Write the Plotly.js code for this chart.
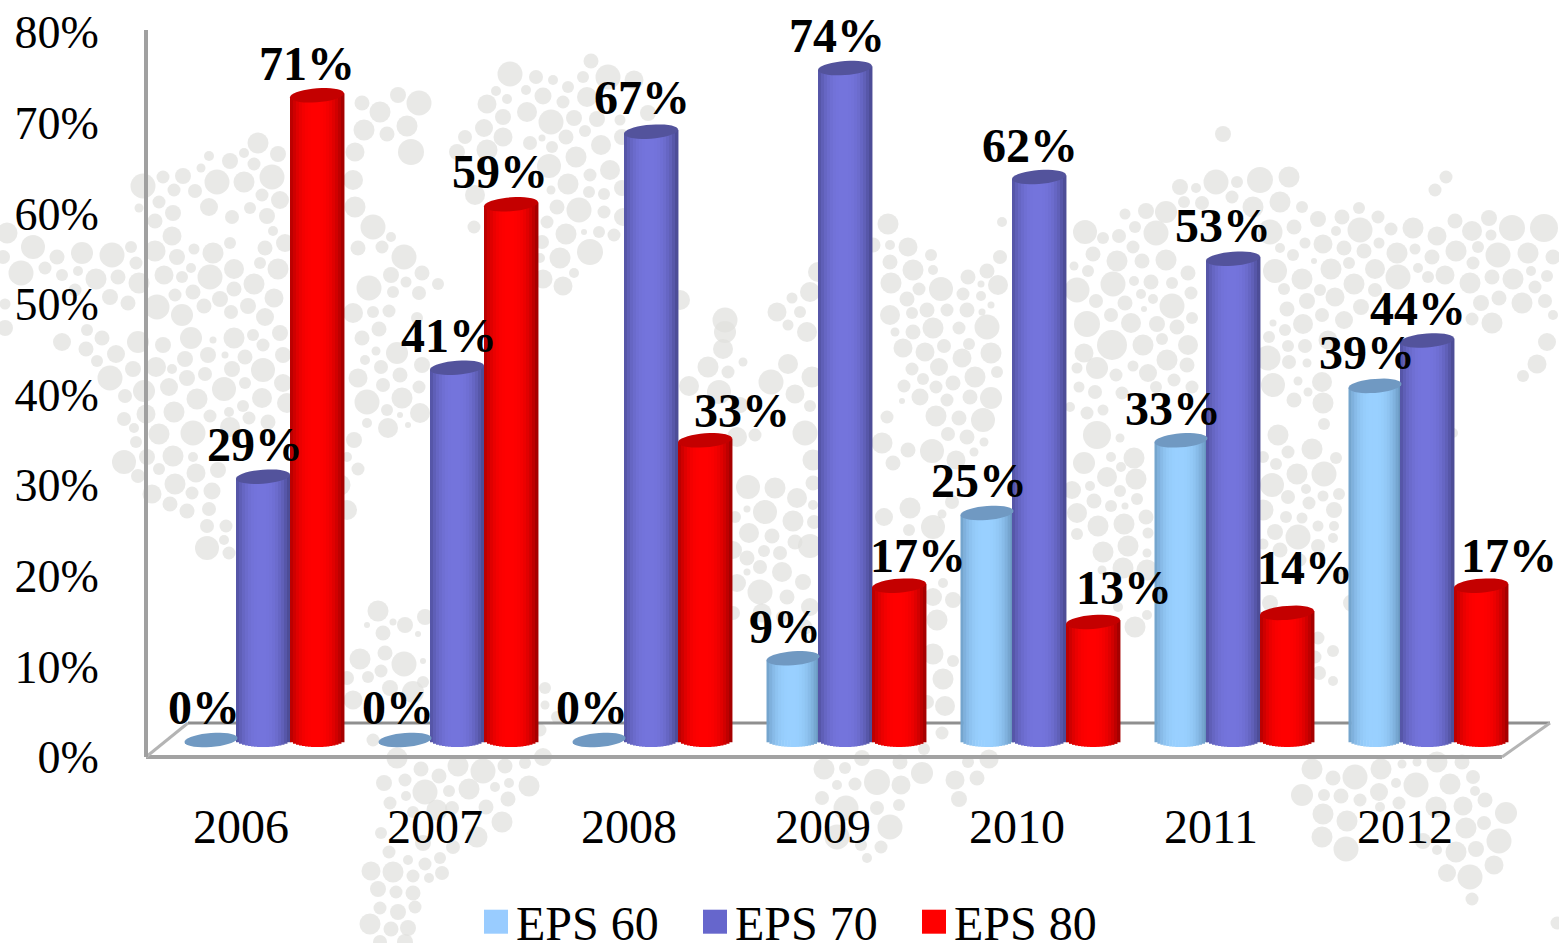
<!DOCTYPE html>
<html><head><meta charset="utf-8">
<script src="https://cdn.plot.ly/plotly-3.0.1.min.js"></script>
<style>html,body{margin:0;padding:0;background:#fff;overflow:hidden}#c{width:1559px;height:943px}</style>
</head><body><div id="c"></div>
<script>
const years=['2006','2007','2008','2009','2010','2011','2012'];
const eps60=[0,0,0,9,25,33,39];
const eps70=[29,41,67,74,62,53,44];
const eps80=[71,59,33,17,13,14,17];
const seriesNames=['EPS 60','EPS 70','EPS 80'];
const yTicks=[0,10,20,30,40,50,60,70,80];
const yTickLabels=['0%','10%','20%','30%','40%','50%','60%','70%','80%'];

// styling
const swatch=['#99ccff','#6666cc','#ff0000'];
const light=[[153,208,255],[116,116,220],[255,0,0]];
const dark=[[104,150,190],[76,76,150],[165,0,0]];
const capColor=['#7099c2','#53539c','#c40000'];
// label nudges in pixels, from each bar's top centre
const dx60=[-7,-7,-7,-8,-8,-8,-8], dy60=[33,33,33,32,33,32,33];
const dx70=[-8,-8,-9,-8,-9,-10,-9], dy70=[32,32,34,33,32,33,32];
const dx80=[-10,-11,37,19,31,18,28], dy80=[32,33,30,30,34,45,30];

// decorative world-map dots behind the chart: [x, y, diameter] in page pixels
const mapDots=[[143,186,25],[163,177,13],[183,176,16],[174,190,13],[195,191,14],[201,168,9],[209,156,10],[217,182,25],[230,161,16],[244,153,10],[258,143,21],[254,164,13],[244,182,21],[272,177,25],[278,154,16],[262,195,13],[280,200,18],[250,208,12],[267,216,16],[232,217,14],[209,207,18],[159,202,13],[173,213,16],[155,221,15],[139,208,9],[172,236,19],[273,231,10],[230,243,12],[213,253,21],[194,249,11],[177,257,16],[155,251,21],[131,247,12],[112,255,25],[82,253,22],[57,257,15],[33,247,24],[7,233,21],[3,257,14],[21,273,25],[45,268,13],[62,275,12],[78,271,10],[96,279,21],[118,277,15],[136,263,13],[139,283,21],[164,275,19],[182,277,12],[191,268,10],[210,277,25],[234,269,20],[260,263,12],[265,248,15],[285,243,18],[278,269,21],[254,284,21],[234,289,15],[220,299,16],[204,306,15],[193,292,15],[175,295,13],[157,307,25],[182,315,22],[274,298,19],[248,306,16],[231,312,14],[265,317,18],[110,297,16],[128,303,15],[5,304,11],[75,290,13],[362,103,15],[380,112,21],[398,95,16],[419,103,25],[364,130,21],[387,134,15],[407,126,21],[411,152,26],[355,152,19],[353,180,20],[355,207,21],[373,227,25],[391,237,10],[382,247,13],[358,248,15],[404,257,25],[391,275,16],[422,273,15],[438,284,12],[406,282,11],[393,292,12],[419,293,14],[369,288,25],[353,313,20],[373,312,12],[389,311,13],[417,318,12],[510,74,25],[496,91,10],[487,104,19],[507,99,10],[503,117,16],[484,128,18],[465,137,14],[503,137,19],[457,152,16],[487,150,21],[475,195,20],[474,227,13],
[138,342,22],[62,342,18],[86,349,15],[102,338,15],[87,330,12],[116,354,18],[97,361,12],[110,378,25],[133,369,16],[144,391,22],[125,396,14],[124,419,14],[146,414,19],[134,428,10],[136,442,12],[124,462,24],[147,457,16],[138,476,14],[152,494,19],[159,434,21],[173,456,21],[159,469,12],[175,484,21],[193,457,10],[196,473,19],[192,493,13],[170,504,15],[187,511,15],[209,509,14],[207,526,14],[226,526,13],[207,548,24],[224,540,10],[229,553,13],[212,491,17],[218,470,16],[193,433,25],[174,412,21],[197,399,21],[169,387,18],[187,378,16],[156,367,20],[172,369,10],[185,359,16],[163,345,16],[191,338,22],[208,355,16],[205,374,14],[224,389,24],[232,369,16],[245,357,15],[263,370,24],[245,383,12],[262,398,20],[243,406,12],[229,412,10],[210,416,13],[249,418,13],[268,422,15],[230,427,20],[234,338,21],[253,335,12],[263,345,13],[213,340,7],[225,355,7],[280,333,16],[283,355,16],[283,383,18],[287,403,20],[5,328,16],
[362,338,15],[379,329,15],[397,353,22],[376,351,9],[365,360,10],[381,367,14],[358,378,19],[400,375,15],[383,385,14],[419,387,13],[402,398,21],[367,402,25],[387,410,12],[420,413,20],[388,428,20],[367,423,10],[400,415,6],[408,425,6],[422,365,16],[354,440,16],[347,457,10],[358,469,13],[340,485,21],[347,510,20],[378,611,21],[405,625,16],[367,625,6],[393,622,7],[383,633,15],[418,634,6],[425,617,16],
[360,659,21],[385,653,15],[404,664,25],[368,677,12],[381,671,13],[423,661,6],[390,688,16],[413,692,22],[353,700,19],[347,678,14],[423,682,12],[373,740,13],[397,758,21],[421,769,15],[439,776,15],[458,766,21],[483,771,25],[505,766,15],[384,783,16],[405,780,13],[425,792,25],[406,796,10],[449,791,12],[469,789,21],[495,787,10],[509,783,10],[390,803,13],[413,812,12],[437,810,21],[452,808,14],[486,807,15],[508,799,15],[502,822,21],[477,837,21],[381,833,12],[389,852,13],[371,871,19],[393,872,21],[408,860,10],[425,864,13],[440,858,12],[413,876,13],[429,878,10],[442,873,14],[378,889,16],[396,892,13],[413,893,15],[380,908,13],[398,912,16],[415,907,13],[370,924,21],[391,929,15],[408,928,16],[380,942,14],[405,942,16],[423,843,16],[453,847,14],
[591,61,15],[536,77,14],[553,80,10],[526,90,10],[543,96,17],[608,77,25],[634,80,19],[583,77,12],[568,87,12],[587,97,20],[563,102,13],[527,112,20],[551,122,25],[574,118,16],[597,119,16],[585,131,12],[566,137,15],[530,143,14],[542,138,7],[552,147,12],[576,157,21],[601,145,20],[549,166,24],[610,170,20],[590,175,13],[568,184,21],[622,188,16],[589,192,12],[551,190,9],[604,194,12],[579,210,25],[557,207,15],[604,212,13],[623,217,18],[547,222,13],[566,234,21],[599,232,12],[584,232,6],[614,235,13],[590,252,26],[560,258,21],[542,242,14],[540,258,10],[543,279,19],[574,273,10],[563,286,19],[620,120,11],[622,137,16],[648,113,16],[680,300,20],[725,320,25],[777,312,19],[792,298,11],[800,312,12],[810,292,20],[818,272,20],
[888,224,21],[873,245,15],[890,245,10],[908,247,19],[931,255,12],[890,262,15],[913,270,21],[933,270,10],[891,283,21],[919,289,13],[941,289,24],[907,299,15],[890,315,20],[927,310,15],[947,310,13],[967,310,15],[968,277,15],[987,271,15],[963,294,13],[981,284,7],[981,296,10],[1000,257,14],[998,285,20],[1002,222,10],[991,305,7],[982,312,7],[912,313,12],
[725,332,22],[723,349,20],[743,362,9],[708,367,21],[728,372,13],[788,364,20],[788,325,11],[807,332,20],[771,382,25],[812,377,21],[689,386,20],[719,392,24],[795,394,19],[810,406,12],[740,405,16],[805,433,25],[755,435,13],[737,437,20],[813,460,21],[748,487,24],[775,488,21],[797,498,20],[813,483,15],[813,505,10],[765,512,24],[747,509,7],[735,517,12],[793,521,21],[814,522,14],[749,533,20],[772,536,15],[795,542,15],[810,546,24],[733,550,18],[764,551,12],[747,558,15],[780,553,14],[760,567,14],[747,572,7],[782,572,20],[803,582,16],[760,592,25],[787,597,15],[737,583,18],[810,607,18],[762,613,19],[782,617,12],[733,613,14],[805,627,15],
[895,332,9],[913,332,15],[933,328,21],[959,328,13],[987,327,25],[903,348,19],[925,352,19],[944,346,14],[969,344,12],[991,353,21],[962,358,19],[939,367,18],[912,369,13],[923,379,12],[904,386,13],[936,387,13],[953,383,15],[975,377,21],[997,372,12],[920,397,17],[902,401,6],[947,400,13],[970,397,15],[991,398,22],[936,416,21],[887,417,13],[959,418,15],[983,420,24],[948,434,14],[967,437,15],[984,442,9],[882,443,21],[908,450,15],[932,451,24],[974,452,9],[893,463,15],[956,460,19],[910,508,21],[884,517,18],[942,514,9],[909,530,12],[952,502,14],[933,527,24],[943,583,10],[933,597,18],[953,600,16],[937,620,21],
[933,654,21],[953,661,12],[943,679,21],[927,702,14],[945,706,20],[942,733,13],[924,749,12],[824,769,21],[845,768,12],[862,758,16],[877,782,26],[900,762,15],[922,773,22],[901,785,19],[855,784,13],[837,785,10],[822,798,14],[846,808,25],[877,808,14],[899,805,12],[890,827,25],[837,837,25],[861,845,12],[881,847,13],[867,858,10],[955,780,19],[977,778,15],[989,759,19],[968,762,12],[959,799,16],[545,688,12],[545,705,9],[543,757,18],[540,730,13],[525,763,12],[529,786,21],[557,717,12],
[1085,232,24],[1103,238,12],[1119,236,14],[1125,214,11],[1146,211,16],[1166,212,22],[1180,187,16],[1196,188,10],[1216,182,25],[1237,182,12],[1260,180,26],[1289,177,21],[1232,197,13],[1184,202,12],[1202,203,14],[1223,134,16],[1135,227,12],[1156,233,25],[1253,207,21],[1280,202,21],[1302,207,12],[1318,219,16],[1342,217,15],[1359,208,12],[1378,217,13],[1360,230,25],[1391,229,13],[1413,228,21],[1437,236,19],[1455,221,15],[1472,231,20],[1489,218,16],[1512,228,26],[1544,228,28],[1491,235,11],[1435,190,13],[1446,177,13],[1294,227,15],[1270,232,25],[1336,231,10],[1305,243,11],[1323,244,19],[1344,248,15],[1364,251,15],[1379,243,11],[1397,253,21],[1415,249,11],[1432,257,15],[1456,251,21],[1478,247,12],[1498,255,25],[1528,253,21],[1553,257,15],[1280,248,10],[1293,255,12],[1314,261,6],[1331,269,21],[1349,263,12],[1375,269,20],[1398,277,25],[1418,268,10],[1428,277,12],[1445,275,19],[1473,263,13],[1470,283,21],[1492,277,15],[1513,279,21],[1531,271,10],[1547,276,12],[1535,287,13],[1275,271,24],[1302,279,21],[1284,289,12],[1320,290,12],[1354,284,21],[1375,290,14],[1335,297,19],[1307,301,16],[1499,298,15],[1522,303,21],[1545,301,14],[1481,303,16],[1287,309,15],[1322,315,14],[1361,307,16],[1344,320,18],[1303,324,20],[1273,323,7],[1285,330,12],[1472,319,13],[1492,323,21],[1553,315,10],[1547,342,18],[1537,364,19],[1523,376,12],[1269,337,12],[1305,346,14],[1288,346,12],[1328,340,19],[1268,358,25],[1307,363,9],[1289,362,14],[1322,382,20],[1273,385,24],[1298,381,9],[1308,392,9],[1294,400,15],[1323,403,21],
[1077,290,25],[1074,266,9],[1088,271,12],[1093,254,15],[1117,261,21],[1142,261,15],[1166,260,21],[1133,247,13],[1113,284,25],[1134,281,10],[1151,282,15],[1172,283,12],[1188,273,15],[1141,294,10],[1191,293,13],[1096,301,14],[1125,303,15],[1153,299,10],[1172,306,25],[1111,315,14],[1144,309,6],[1087,324,26],[1131,323,20],[1157,324,16],[1192,318,12],[1177,327,15],[1162,339,12],[1112,345,30],[1143,345,21],[1188,345,20],[1084,353,19],[1167,360,21],[1133,366,11],[1097,368,22],[1148,373,18],[1187,365,15],[1077,368,11],[1116,375,13],[1174,380,13],[1079,387,11],[1095,392,14],[1122,393,13],[1156,387,12],[1192,387,13],[1087,413,13],[1103,410,11],[1070,407,10],
[1097,435,28],[1120,438,9],[1084,463,22],[1134,458,21],[1111,457,10],[1121,467,10],[1107,477,20],[1136,479,21],[1090,486,10],[1120,491,12],[1072,490,18],[1094,501,15],[1137,499,12],[1111,506,12],[1125,506,7],[1077,513,20],[1146,517,15],[1098,526,21],[1124,524,21],[1148,533,11],[1077,534,12],[1128,546,21],[1103,552,21],[1147,553,9],[1123,568,21],[1102,570,9],[1147,570,21],[1118,607,10],[1147,615,10],[1135,627,21],[1278,435,21],[1324,424,12],[1312,449,21],[1288,452,13],[1263,457,12],[1336,458,12],[1276,464,12],[1324,474,25],[1297,474,21],[1272,485,24],[1306,489,10],[1288,497,14],[1323,496,11],[1339,494,12],[1263,510,21],[1309,503,13],[1334,510,16],[1286,517,12],[1302,518,11],[1318,526,11],[1334,526,10],[1275,532,16],[1298,537,25],[1333,538,10],[1318,546,14],[1263,544,11],[1280,550,15],[1300,560,13],[1270,603,16],[1318,638,13],[1333,651,12],[1315,657,13],[1319,673,14],[1333,681,10],[1453,433,10],[1340,577,15],[1352,603,18],
[1312,769,21],[1333,778,15],[1355,777,25],[1381,769,21],[1402,764,9],[1417,762,9],[1437,762,21],[1462,762,15],[1473,777,14],[1416,785,25],[1450,784,21],[1396,783,10],[1302,795,22],[1324,795,12],[1341,796,15],[1379,792,18],[1360,800,13],[1475,791,10],[1485,800,15],[1506,813,22],[1399,803,13],[1436,807,21],[1463,806,19],[1380,807,10],[1323,814,21],[1347,821,21],[1484,823,14],[1466,828,21],[1499,841,25],[1322,837,21],[1346,849,25],[1423,841,16],[1437,850,10],[1476,849,16],[1456,852,21],[1494,865,19],[1447,873,18],[1470,877,25],[1472,899,13],[1557,923,13]];

// chart frame, page pixels (fake 3-D floor)
const floorFrontX=[146,1502], floorFrontY=[757,757];
const floorBackX=[188,1550], floorBackY=[723,723];
const floorSideLX=[146,188], floorSideLY=[757,723];
const floorSideRX=[1502,1550], floorSideRY=[757,723];

const W=1559,H=943;
const PXG=194, X0=241, DEPTH=22;      // px per category, first tick px, 3-D shift
const PXV=9.08, Y0=740, FLOORB=757;   // px per %, px of bars' zero, axes bottom
const RY=7, TILT=2, STRIPS=18;
const barPx=[53,54,54], centrePx=[-52,0,54];   // per series, relative to the EPS 70 cylinder

const series=[eps60,eps70,eps80];
const dxs=[dx60,dx70,dx80], dys=[dy60,dy70,dy80];
const data=[];
// background layer
data.push({type:'scatter',mode:'markers',xaxis:'x',yaxis:'y',hoverinfo:'skip',showlegend:false,
  x:mapDots.map(d=>d[0]),y:mapDots.map(d=>d[1]),
  marker:{size:mapDots.map(d=>d[2]),sizemode:'diameter',color:'#dfdfdd',line:{width:0}}});
[[floorBackX,floorBackY,'#8f8f8f',3],[floorFrontX,floorFrontY,'#a2a2a2',4],[floorSideLX,floorSideLY,'#b4b4b4',3],[floorSideRX,floorSideRY,'#b4b4b4',3]].forEach(f=>{
  data.push({type:'scatter',mode:'lines',xaxis:'x',yaxis:'y',hoverinfo:'skip',showlegend:false,
    x:f[0],y:f[1],line:{color:f[2],width:f[3]}});
});

function mix(a,b,k){return 'rgb('+a.map((v,i)=>Math.round(v+(b[i]-v)*k)).join(',')+')';}
const xpos=years.map((_,i)=>i);
const vs=PXV, ux=PXG;
series.forEach((vals,s)=>{
  const centre=(DEPTH+centrePx[s])/ux, BARW=barPx[s];
  // the series' real bar: carries the legend entry, sits under the shading strips
  data.push({type:'bar',name:seriesNames[s],x:xpos,y:vals,xaxis:'x2',yaxis:'y2',
    offset:centre-0.42*BARW/ux,width:0.84*BARW/ux,marker:{color:swatch[s],line:{width:0}},hoverinfo:'skip',showlegend:true});
  for(let k=0;k<STRIPS;k++){
    const t0=-1+2*k/STRIPS, t1=t0+2/STRIPS, t=(t0+t1)/2;
    const edge=Math.pow(Math.abs(t+0.05),2.6);
    const b=-RY*Math.sqrt(Math.max(0,1-t*t))/vs;
    const hw=BARW/2/ux;
    data.push({type:'bar',x:xpos,xaxis:'x2',yaxis:'y2',showlegend:false,hoverinfo:'skip',
      y:vals.map(v=>v===0?null:(v+TILT*t/vs)-b),base:vals.map(()=>b),
      offset:centre+t0*hw,width:(t1-t0)*hw*1.15,
      marker:{color:mix(light[s],dark[s],Math.min(1,edge)),line:{width:0}}});
  }
});
// keeps the percent tick axis alive
data.push({type:'scatter',mode:'none',xaxis:'x2',yaxis:'y3',x:[0,0],y:[0,80],hoverinfo:'skip',showlegend:false});

// cylinder caps
const shapes=[];
series.forEach((vals,s)=>{
  const c=(DEPTH+centrePx[s])/ux, BARW=barPx[s];
  vals.forEach((v,i)=>{
    const pts=[];
    for(let a=0;a<36;a++){
      const th=a/36*2*Math.PI, px=Math.cos(th)*BARW/2, py=Math.sin(th)*RY;
      pts.push((i+c+px/ux)+' '+(v+(py+px*2*TILT/BARW)/vs));
    }
    shapes.push({type:'path',xref:'x2',yref:'y2',layer:'above',path:'M '+pts.join(' L ')+' Z',
      fillcolor:capColor[s],line:{width:0}});
  });
});

// data labels
const annotations=[];
series.forEach((vals,s)=>{
  const c=(DEPTH+centrePx[s])/ux;
  vals.forEach((v,i)=>{
    annotations.push({xref:'x2',yref:'y2',x:i+c,y:v,text:v+'%',showarrow:false,
      xanchor:'center',yanchor:'middle',xshift:dxs[s][i],yshift:dys[s][i],
      font:{family:'"Liberation Serif",serif',size:48,color:'#000',weight:700}});
  });
});

const bottomFrac=(H-FLOORB)/H;
const layout={
  width:W,height:H,margin:{l:0,r:0,t:0,b:0,pad:0,autoexpand:false},paper_bgcolor:'#fff',plot_bgcolor:'rgba(0,0,0,0)',
  barmode:'overlay',showlegend:true,dragmode:false,
  font:{family:'"Liberation Serif",serif',color:'#000'},
  xaxis:{range:[0,W],domain:[0,1],visible:false,fixedrange:true},
  yaxis:{range:[H,0],domain:[0,1],visible:false,fixedrange:true},
  xaxis2:{anchor:'y2',domain:[0,1],range:[-X0/PXG,(W-X0)/PXG],tickmode:'array',
    tickvals:xpos,ticktext:years,showgrid:false,zeroline:false,showline:false,ticks:'',
    ticklabelstandoff:37,tickfont:{family:'"Liberation Serif",serif',size:48,color:'#000'},fixedrange:true},
  yaxis2:{anchor:'x2',domain:[bottomFrac,1],range:[(Y0-FLOORB)/PXV,Y0/PXV],visible:false,fixedrange:true},
  yaxis3:{anchor:'free',position:146/W,domain:[bottomFrac,1-30/H],side:'left',
    range:[0,(FLOORB-30)/9.06],tickmode:'array',tickvals:yTicks,ticktext:yTickLabels,showgrid:false,zeroline:false,
    showline:true,linecolor:'#a0a0a0',linewidth:4,ticks:'',ticklabelstandoff:36,
    tickfont:{family:'"Liberation Serif",serif',size:46,color:'#000'},fixedrange:true},
  legend:{orientation:'h',x:476/W,xanchor:'left',y:(H-884)/H,yanchor:'top',itemwidth:30,
    entrywidth:174,entrywidthmode:'pixels',bgcolor:'rgba(0,0,0,0)',
    font:{family:'"Liberation Serif",serif',size:48,color:'#000'},itemclick:false,itemdoubleclick:false},
  shapes:shapes,annotations:annotations
};
Plotly.newPlot('c',data,layout,{displayModeBar:false}).then(gd=>{
  gd.querySelectorAll('.legendpoints path').forEach(p=>{
    const t=p.getAttribute('transform')||'';
    if(!/scale/.test(t)) p.setAttribute('transform',t+' scale(2)');
  });
});
</script></body></html>
